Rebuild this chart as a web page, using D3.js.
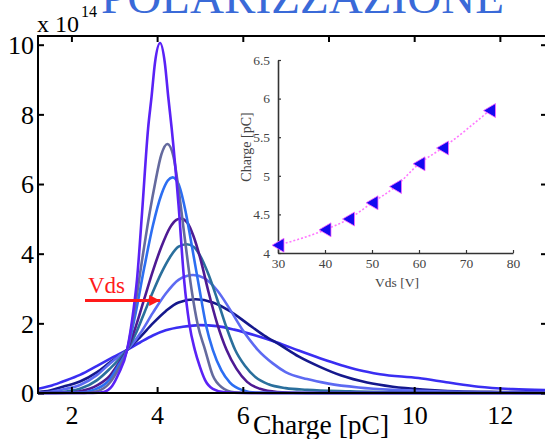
<!DOCTYPE html>
<html>
<head>
<meta charset="utf-8">
<script src="https://cdn.jsdelivr.net/npm/d3@7"></script>
<style>
  html, body { margin: 0; padding: 0; background: #fff; }
  svg { display: block; }
  text { font-family: "Liberation Serif", "DejaVu Serif", serif; }
</style>
</head>
<body>
<svg id="chart" width="545" height="439"></svg>
<script>
// Charge distributions (x in pC, y in units of 1e14), one trace per drain bias
const trace1 = [[1.22,0],[2.5,0],[2.75,0.03],[2.95,0.2],[3.1,0.55],[3.3,1.24],[3.45,2.4],[3.53,3.25],[3.65,5.2],[3.79,7.6],[3.87,8.5],[3.95,9.48],[4.07,10.05],[4.18,9.48],[4.26,8.5],[4.34,7.6],[4.5,5.4],[4.63,3.25],[4.75,2.0],[4.88,1.24],[5.0,0.75],[5.12,0.37],[5.3,0.12],[5.58,0.02],[6.0,0],[13.1,0]];
const trace2 = [[1.22,0],[2.3,0],[2.6,0.05],[2.9,0.3],[3.1,0.7],[3.3,1.24],[3.5,2.6],[3.66,3.9],[3.83,5.2],[3.95,6.0],[4.1,6.85],[4.24,7.15],[4.38,6.8],[4.49,5.95],[4.65,4.4],[4.8,3.0],[4.95,1.95],[5.12,1.24],[5.3,0.5],[5.5,0.17],[5.8,0.02],[6.2,0],[13.1,0]];
const trace3 = [[1.22,0],[2.2,0.01],[2.5,0.08],[2.9,0.4],[3.1,0.8],[3.3,1.24],[3.5,2.3],[3.7,3.6],[3.9,4.8],[4.1,5.7],[4.25,6.1],[4.36,6.19],[4.5,6.0],[4.65,5.3],[4.8,4.3],[5.0,2.9],[5.15,1.9],[5.3,1.24],[5.5,0.65],[5.7,0.3],[6.0,0.08],[6.3,0.01],[7.0,0],[13.1,0]];
const trace4 = [[1.22,0],[1.9,0.01],[2.2,0.05],[2.6,0.22],[2.9,0.5],[3.1,0.85],[3.3,1.24],[3.5,1.9],[3.7,2.7],[3.9,3.5],[4.1,4.2],[4.3,4.75],[4.45,4.97],[4.55,5.01],[4.7,4.9],[4.85,4.5],[5.0,3.9],[5.2,2.9],[5.4,2.0],[5.62,1.24],[5.85,0.7],[6.1,0.32],[6.4,0.12],[6.8,0.03],[7.5,0],[13.1,0]];
const trace5 = [[1.22,0],[1.8,0.03],[2.2,0.12],[2.6,0.37],[2.9,0.7],[3.1,0.95],[3.3,1.24],[3.5,1.7],[3.7,2.3],[3.9,2.9],[4.1,3.45],[4.3,3.9],[4.5,4.2],[4.69,4.27],[4.85,4.2],[5.0,3.95],[5.2,3.4],[5.4,2.7],[5.6,1.95],[5.82,1.24],[6.05,0.78],[6.3,0.45],[6.6,0.25],[7.0,0.14],[7.5,0.09],[8.5,0.05],[10,0.02],[13.1,0]];
const trace6 = [[1.22,0.01],[1.4,0.02],[1.8,0.1],[2.2,0.23],[2.6,0.52],[2.9,0.85],[3.1,1.05],[3.3,1.24],[3.6,1.7],[3.9,2.3],[4.2,2.85],[4.5,3.25],[4.84,3.39],[5.1,3.3],[5.4,2.95],[5.7,2.4],[6.0,1.8],[6.35,1.24],[6.7,0.85],[7.0,0.6],[7.5,0.4],[8.0,0.27],[8.7,0.16],[9.5,0.09],[10.5,0.05],[12,0.02],[13.1,0.01]];
const trace7 = [[1.22,0.03],[1.5,0.07],[1.8,0.18],[2.2,0.33],[2.6,0.6],[2.9,0.88],[3.1,1.05],[3.3,1.24],[3.6,1.6],[3.9,2.0],[4.2,2.35],[4.5,2.6],[4.9,2.69],[5.3,2.6],[5.7,2.35],[6.1,2.0],[6.5,1.65],[6.87,1.38],[7.3,1.05],[7.8,0.75],[8.3,0.5],[8.9,0.3],[9.5,0.18],[10.2,0.1],[11,0.05],[12,0.03],[13.1,0.02]];
const trace8 = [[1.22,0.12],[1.5,0.2],[1.8,0.33],[2.2,0.52],[2.6,0.78],[2.97,1.03],[3.3,1.24],[3.6,1.45],[3.9,1.65],[4.2,1.8],[4.6,1.9],[5.0,1.95],[5.4,1.92],[5.8,1.82],[6.3,1.65],[6.8,1.45],[7.3,1.22],[7.8,1.0],[8.3,0.8],[8.7,0.66],[9.2,0.54],[10.1,0.43],[10.8,0.3],[11.5,0.18],[12.3,0.11],[13.1,0.08]];
const traces = [trace8, trace7, trace6, trace5, trace4, trace3, trace2, trace1];
const traceColors = ["#3a2ef2", "#15188c", "#5d6af2", "#2a6f9c", "#4e1a93", "#2c6ef2", "#646a9e", "#5a22f6"];

// Main axes (the 8 label sits under the axis title)
const xTicks = [2, 4, 6, 8, 10, 12];
const xTickLabels = ["2", "4", "6", "", "10", "12"];
const yTicks = [0, 2, 4, 6, 8, 10];

// Inset: collected charge versus drain voltage
const vds = [30, 40, 45, 50, 55, 60, 65, 75];
const chargePC = [4.10, 4.30, 4.44, 4.65, 4.86, 5.155, 5.36, 5.845];
const insetXTicks = [30, 40, 50, 60, 70, 80];
const insetYTicks = [4, 4.5, 5, 5.5, 6, 6.5];

const svg = d3.select("#chart");

// Title
svg.append("text")
  .attr("x", 101).attr("y", 13)
  .attr("textLength", 403).attr("lengthAdjust", "spacingAndGlyphs")
  .attr("font-size", 47).attr("fill", "#3a6ad8")
  .text("POLARIZZAZIONE");

const plotL = 38, plotR = 547, plotT = 36, plotB = 393;
const x = d3.scaleLinear().domain([1.22, 13.1]).range([plotL, plotR]);
const y = d3.scaleLinear().domain([0, 10.25]).range([plotB, plotT]);

// Traces
const line = d3.line().x(d => x(d[0])).y(d => y(d[1])).curve(d3.curveMonotoneX);
svg.append("defs").append("clipPath").attr("id", "plotClip")
  .append("rect").attr("x", plotL).attr("y", plotT).attr("width", plotR - plotL).attr("height", plotB - plotT + 2);
const gTraces = svg.append("g").attr("clip-path", "url(#plotClip)");
traces.forEach((t, i) => {
  gTraces.append("path").attr("d", line(t))
    .attr("fill", "none").attr("stroke", traceColors[i])
    .attr("stroke-width", 2.6).attr("stroke-linejoin", "round");
});

// Frame
svg.append("rect").attr("x", plotL).attr("y", plotT)
  .attr("width", plotR - plotL).attr("height", plotB - plotT)
  .attr("fill", "none").attr("stroke", "#000").attr("stroke-width", 2);

// Axes with inward ticks
const axB = svg.append("g").attr("transform", `translate(0,${plotB})`)
  .call(d3.axisBottom(x).tickValues(xTicks).tickSizeInner(-6).tickSizeOuter(0)
    .tickFormat((d, i) => xTickLabels[i]));
const axT = svg.append("g").attr("transform", `translate(0,${plotT})`)
  .call(d3.axisTop(x).tickValues(xTicks).tickSizeInner(-6).tickSizeOuter(0).tickFormat(""));
const axL = svg.append("g").attr("transform", `translate(${plotL},0)`)
  .call(d3.axisLeft(y).tickValues(yTicks).tickSizeInner(-6).tickSizeOuter(0).tickFormat(d3.format("d")));
const axR = svg.append("g").attr("transform", `translate(${plotR},0)`)
  .call(d3.axisRight(y).tickValues(yTicks).tickSizeInner(-6).tickSizeOuter(0).tickFormat(""));
[axB, axT, axL, axR].forEach(g => {
  g.select(".domain").remove();
  g.selectAll(".tick line").attr("stroke", "#000").attr("stroke-width", 2);
});
axB.selectAll(".tick text").attr("y", 31).attr("dy", 0)
  .attr("font-size", 26).attr("fill", "#000");
axL.selectAll(".tick text").attr("x", -4).attr("dy", "0.34em")
  .attr("font-size", 26).attr("fill", "#000");

// Exponent note
const expo = svg.append("text").attr("x", 37).attr("y", 32).attr("font-size", 24).attr("fill", "#000");
expo.append("tspan").text("x 10");
expo.append("tspan").attr("font-size", 16).attr("dy", -15).attr("dx", 2).text("14");

// X axis label
svg.append("text").attr("x", 321).attr("y", 434).attr("text-anchor", "middle")
  .attr("font-size", 27.5).attr("fill", "#000").text("Charge [pC]");

// Vds arrow
svg.append("defs").append("marker").attr("id", "redHead")
  .attr("viewBox", "0 0 10 10").attr("refX", 10).attr("refY", 5)
  .attr("markerWidth", 4.2).attr("markerHeight", 3.6).attr("markerUnits", "strokeWidth").attr("orient", "auto")
  .append("path").attr("d", "M0,0 L10,5 L0,10 Z").attr("fill", "#ff1a1a");
svg.append("line").attr("x1", 85).attr("y1", 300.5).attr("x2", 160).attr("y2", 300.5)
  .attr("stroke", "#ff1a1a").attr("stroke-width", 3).attr("marker-end", "url(#redHead)");
svg.append("text").attr("x", 88).attr("y", 293).attr("font-size", 23).attr("fill", "#ff1a1a").text("Vds");

// Inset
const ix = d3.scaleLinear().domain([30, 80]).range([278, 513]);
const iy = d3.scaleLinear().domain([4, 6.5]).range([253, 60]);
const inset = svg.append("g");
const iaxB = inset.append("g").attr("transform", "translate(0,253)")
  .call(d3.axisBottom(ix).tickValues(insetXTicks).tickSizeInner(-3).tickSizeOuter(0).tickPadding(5));
const iaxL = inset.append("g").attr("transform", "translate(278,0)")
  .call(d3.axisLeft(iy).tickValues(insetYTicks).tickSizeInner(-3).tickSizeOuter(0).tickPadding(8)
    .tickFormat(d => (d % 1 === 0 ? d3.format("d")(d) : d3.format(".1f")(d))));
[iaxB, iaxL].forEach(g => {
  g.select(".domain").attr("stroke", "#333").attr("stroke-width", 1.6);
  g.selectAll(".tick line").attr("stroke", "#333").attr("stroke-width", 1.2);
  g.selectAll(".tick text").attr("font-size", 13.5).attr("fill", "#444");
});
inset.append("text").attr("x", 397).attr("y", 287).attr("text-anchor", "middle")
  .attr("font-size", 13.5).attr("fill", "#444").text("Vds [V]");
inset.append("text").attr("transform", "translate(251,147) rotate(-90)").attr("text-anchor", "middle")
  .attr("font-size", 14).attr("fill", "#444").text("Charge [pC]");

const pts = vds.map((v, i) => [v, chargePC[i]]);
inset.append("path")
  .attr("d", d3.line().x(d => ix(d[0])).y(d => iy(d[1])).curve(d3.curveMonotoneX)(pts))
  .attr("fill", "none").attr("stroke", "#ff77ff").attr("stroke-width", 1.6).attr("stroke-dasharray", "2,2");
inset.selectAll("path.mk").data(pts).enter().append("path").attr("class", "mk")
  .attr("transform", d => `translate(${ix(d[0])},${iy(d[1])})`)
  .attr("d", "M-6,0 L6,-7 L6,7 Z")
  .attr("fill", "#1408f0").attr("stroke", "#ff66ff").attr("stroke-width", 0.8);
</script>
</body>
</html>
